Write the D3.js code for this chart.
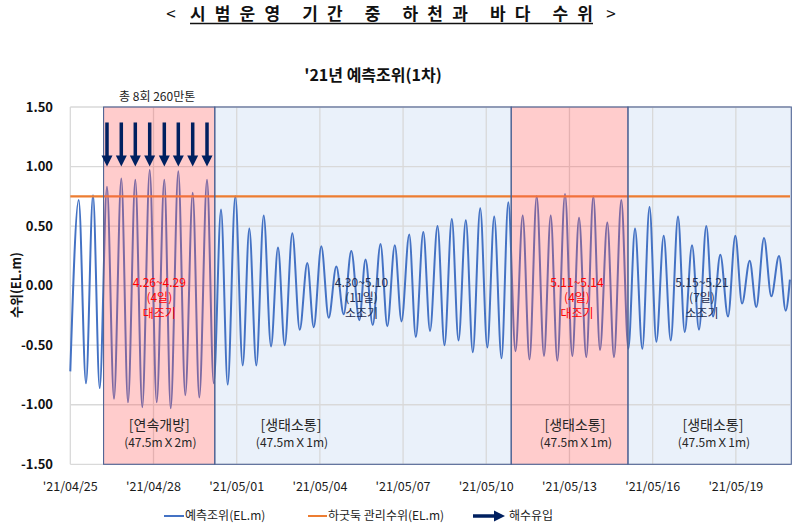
<!DOCTYPE html>
<html><head><meta charset="utf-8">
<script src="https://cdn.jsdelivr.net/npm/d3@7"></script>
<style>
body{margin:0;background:#fff;}
svg{display:block;font-family:"Noto Sans CJK KR","Noto Sans",sans-serif;}
</style></head><body>
<svg id="chart" width="798" height="523"></svg>
<script>
// ---------------- data ----------------
// days since 2021-04-25 00:00 of each high / low water of the predicted tide
const tideDay = [0,0.303,0.566,0.819,1.060,1.323,1.576,1.839,2.081,2.344,
  2.596,2.863,3.116,3.390,3.621,3.895,4.147,4.414,4.652,4.930,
  5.171,5.435,5.676,5.950,6.217,6.455,6.708,6.974,7.238,7.490,
  7.732,8.006,8.273,8.547,8.778,9.052,9.318,9.593,9.859,10.133,
  10.422,10.646,10.905,11.187,11.432,11.702,11.944,12.222,12.460,12.730,
  12.972,13.242,13.494,13.758,13.999,14.263,14.515,14.782,15.038,15.287,
  15.550,15.795,16.054,16.314,16.559,16.819,17.082,17.324,17.562,17.840,
  18.103,18.345,18.608,18.861,19.102,19.365,19.607,19.870,20.123,20.364,
  20.628,20.887,21.133,21.399,21.652,21.915,22.156,22.420,22.672,22.935,
  23.177,23.440,23.718,23.981,24.223,24.500,24.738,25.016,25.279,25.557,
  25.798,25.95];
const tideLevel = [-0.72,0.72,-0.82,0.76,-0.86,0.83,-0.95,0.90,-0.98,0.89,
  -1.02,0.97,-0.98,0.89,-1.03,0.96,-0.92,0.78,-0.94,0.89,
  -0.82,0.64,-0.83,0.75,-0.67,0.48,-0.67,0.59,-0.51,0.32,
  -0.50,0.44,-0.37,0.19,-0.35,0.33,-0.27,0.16,-0.24,0.29,
  -0.29,0.22,-0.33,0.35,-0.34,0.34,-0.30,0.43,-0.43,0.45,
  -0.38,0.50,-0.50,0.56,-0.46,0.55,-0.56,0.65,-0.52,0.58,
  -0.61,0.70,-0.55,0.59,-0.62,0.75,-0.59,0.59,-0.63,0.77,
  -0.59,0.57,-0.60,0.75,-0.54,0.53,-0.60,0.72,-0.53,0.48,
  -0.53,0.66,-0.47,0.42,-0.46,0.58,-0.39,0.34,-0.37,0.50,
  -0.26,0.26,-0.26,0.42,-0.15,0.21,-0.18,0.40,-0.09,0.25,
  -0.21,0.05];
const mgmtLevel = 0.75;                        // 하굿둑 관리수위
const inflowDay = [1.323,1.839,2.344,2.863,3.390,3.895,4.414,4.930]; // 해수유입
const yTicks = [1.5,1.0,0.5,0,-0.5,-1.0,-1.5];
const xTickDay = [0,3,6,9,12,15,18,21,24];
const periodStart = [1.2,5.21,15.9,20.11];
const periodEnd   = [5.21,15.9,20.11,26];
const periodType  = ["spring","neap","spring","neap"];
const periodRange = ["4.26~4.29","4.30~5.10","5.11~5.14","5.15~5.21"];
const periodDays  = ["(4일)","(11일)","(4일)","(7일)"];
const periodTide  = ["대조기","소조기","대조기","소조기"];
const periodMode  = ["[연속개방]","[생태소통]","[생태소통]","[생태소통]"];
const periodGate  = ["(47.5mＸ2m)","(47.5mＸ1m)","(47.5mＸ1m)","(47.5mＸ1m)"];
const titleText = "시범운영 기간 중 하천과 바다 수위";
const chartTitle = "'21년 예측조위(1차)";
const inflowNote = "총 8회 260만톤";
const legendLabels = ["예측조위(EL.m)","하굿둑 관리수위(EL.m)","해수유입"];

// ---------------- layout ----------------
const base = new Date(2021,3,25).getTime();
const toDate = d => new Date(base + d*864e5);
const svg = d3.select("#chart");
const L = 70.3, R = 791.3, T = 107, B = 464.3;
const x = d3.scaleTime().domain([toDate(0), toDate(26)]).range([L, R]);
const y = d3.scaleLinear().domain([-1.5,1.5]).range([B, T]);
const gridR = 790;
const navy = "#002060";
const periods = periodStart.map((s,i)=>({s, e:periodEnd[i], t:periodType[i], i}));

// light-blue (neap) boxes behind
svg.append("g").selectAll("rect").data(periods.filter(p=>p.t==="neap")).join("rect")
  .attr("x", p=>x(toDate(p.s))).attr("width", p=>x(toDate(p.e))-x(toDate(p.s)))
  .attr("y", T).attr("height", B-T).attr("fill","#EAF1FA");

// gridlines
const grid = svg.append("g").attr("stroke","#D9D9D9").attr("stroke-width",1.3);
grid.selectAll("line.h").data(yTicks).join("line").attr("class","h")
  .attr("x1",L).attr("x2",gridR).attr("y1",d=>y(d)).attr("y2",d=>y(d));
grid.selectAll("line.v").data(xTickDay).join("line").attr("class","v")
  .attr("x1",d=>x(toDate(d))).attr("x2",d=>x(toDate(d))).attr("y1",T).attr("y2",B);

// tide curve
const pts = tideDay.map((d,i)=>[toDate(d), tideLevel[i]]);
svg.append("path").datum(pts)
  .attr("d", d3.line().x(p=>x(p[0])).y(p=>y(p[1])).curve(d3.curveMonotoneX))
  .attr("fill","none").attr("stroke","#4472C4").attr("stroke-width",2);

// management level
svg.append("line").attr("x1",L).attr("x2",gridR)
  .attr("y1",y(mgmtLevel)).attr("y2",y(mgmtLevel))
  .attr("stroke","#ED7D31").attr("stroke-width",2.2);

// spring-tide pink overlays
svg.append("g").selectAll("rect").data(periods.filter(p=>p.t==="spring")).join("rect")
  .attr("x", p=>x(toDate(p.s))).attr("width", p=>x(toDate(p.e))-x(toDate(p.s)))
  .attr("y", T).attr("height", B-T).attr("fill","rgb(255,85,85)").attr("fill-opacity",0.3);

// box borders
svg.append("g").selectAll("rect").data(periods).join("rect")
  .attr("x", p=>x(toDate(p.s))).attr("width", p=>x(toDate(p.e))-x(toDate(p.s)))
  .attr("y", T).attr("height", B-T).attr("fill","none")
  .attr("stroke", "#4F6394").attr("stroke-width",1.1);

// inflow arrows
const ag = svg.append("g").attr("fill",navy);
inflowDay.forEach(d=>{
  const cx = x(toDate(d)), y0 = y(1.37), y1 = y(1.0);
  ag.append("rect").attr("x",cx-1.75).attr("y",y0).attr("width",3.5).attr("height",y1-y0-9);
  ag.append("path").attr("d",`M${cx-5.5},${y1-11}L${cx+5.5},${y1-11}L${cx},${y1}Z`);
});
svg.append("text").attr("x", x(toDate((periodStart[0]+periodEnd[0])/2))-2).attr("y",101)
  .attr("text-anchor","middle").attr("font-size",12).attr("fill","#222").text(inflowNote);

// period annotations
const tideX = [159.3, 361.5, 577, 702];
const modeX = [159.3, 291, 575, 713];
const ann = svg.append("g").attr("text-anchor","middle");
periods.forEach((p,i)=>{
  const col = p.t==="spring" ? "#FF0000" : "#1F2D50";
  [periodRange[i], periodDays[i], periodTide[i]].forEach((t,k)=>{
    ann.append("text").attr("x",tideX[i]).attr("y", y(0)+1+k*15.5)
      .attr("font-size",12).attr("fill",col).text(t);
  });
  ann.append("text").attr("x",modeX[i]).attr("y",430).attr("font-size",14)
    .attr("fill","#262626").text(periodMode[i]);
  ann.append("text").attr("x",modeX[i]+1).attr("y",447).attr("font-size",12)
    .attr("fill","#262626").text(periodGate[i]);
});

// y axis labels
svg.append("g").selectAll("text").data(yTicks).join("text")
  .attr("x",53).attr("y",d=>y(d)).attr("dy","0.36em").attr("text-anchor","end")
  .attr("font-size",13).attr("font-weight","bold").attr("fill","#111")
  .text(d=>d3.format(".2f")(d).replace("−","-"));
svg.append("text").attr("transform","translate(16,285) rotate(-90)")
  .attr("text-anchor","middle").attr("dy","0.35em").attr("font-size",13)
  .attr("font-weight","bold").attr("fill","#111").text("수위(EL.m)");

// x axis labels
const fmt = d3.timeFormat("'%y/%m/%d");
svg.append("g").selectAll("text").data(xTickDay).join("text")
  .attr("x",d=>x(toDate(d))).attr("y",491).attr("text-anchor","middle")
  .attr("font-size",12.5).attr("fill","#1a1a1a").text(d=>fmt(toDate(d)));

// titles
svg.append("text").attr("x",373).attr("y",81).attr("text-anchor","middle")
  .attr("font-size",16).attr("font-weight","bold").attr("fill","#111").text(chartTitle);
svg.append("text").attr("x",171).attr("y",20).attr("text-anchor","middle")
  .attr("font-size",17).attr("fill","#111").text("<");
svg.append("text").attr("x",611).attr("y",20).attr("text-anchor","middle")
  .attr("font-size",17).attr("fill","#111").text(">");
svg.append("text").attr("x",190).attr("y",20).attr("textLength",403)
  .attr("lengthAdjust","spacing").attr("font-size",17).attr("font-weight","bold")
  .attr("fill","#111").text(titleText);
svg.append("line").attr("x1",190).attr("x2",593).attr("y1",23.5).attr("y2",23.5)
  .attr("stroke","#111").attr("stroke-width",1.3);

// legend
const lg = svg.append("g").attr("font-size",12).attr("fill","#222");
const ly = 516;
lg.append("line").attr("x1",164).attr("x2",184).attr("y1",ly).attr("y2",ly).attr("stroke","#4472C4").attr("stroke-width",2);
lg.append("text").attr("x",185).attr("y",ly).attr("dy","0.35em").text(legendLabels[0]);
lg.append("line").attr("x1",308).attr("x2",327).attr("y1",ly).attr("y2",ly).attr("stroke","#ED7D31").attr("stroke-width",2);
lg.append("text").attr("x",328).attr("y",ly).attr("dy","0.35em").text(legendLabels[1]);
lg.append("rect").attr("x",473).attr("y",ly-1.75).attr("width",22).attr("height",3.5).attr("fill",navy);
lg.append("path").attr("d",`M494,${ly-5.5}L505,${ly}L494,${ly+5.5}Z`).attr("fill",navy);
lg.append("text").attr("x",509).attr("y",ly).attr("dy","0.35em").text(legendLabels[2]);
</script></body></html>
